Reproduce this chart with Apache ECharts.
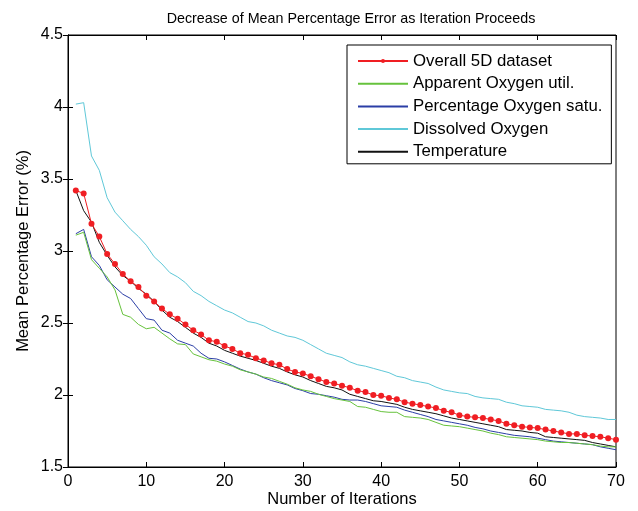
<!DOCTYPE html>
<html>
<head>
<meta charset="utf-8">
<script src="https://cdn.jsdelivr.net/npm/echarts@6/dist/echarts.min.js"></script>
<style>
	html, body { margin: 0; padding: 0; background: #fff; }
	#chart { width: 638px; height: 511px; }
</style>
</head>
<body>
<div id="chart"></div>
<script>
var iterations = [];
for (var i = 1; i <= 70; i++) iterations.push(i);

var overall = [3.42, 3.40, 3.19, 3.10, 2.98, 2.91, 2.84, 2.79, 2.75, 2.69,
	2.65, 2.60, 2.56, 2.53, 2.49, 2.45, 2.42, 2.38, 2.37, 2.34,
	2.32, 2.29, 2.28, 2.255, 2.24, 2.22, 2.21, 2.18, 2.16, 2.15,
	2.13, 2.11, 2.09, 2.08, 2.065, 2.05, 2.03, 2.02, 2.00, 1.995,
	1.98, 1.97, 1.95, 1.94, 1.93, 1.92, 1.91, 1.89, 1.88, 1.86,
	1.85, 1.845, 1.84, 1.83, 1.82, 1.80, 1.79, 1.78, 1.775, 1.77,
	1.76, 1.75, 1.74, 1.73, 1.73, 1.72, 1.715, 1.71, 1.70, 1.69];

var apparentO2 = [3.11, 3.13, 2.94, 2.88, 2.82, 2.73, 2.56, 2.54, 2.49, 2.46,
	2.47, 2.43, 2.39, 2.355, 2.35, 2.285, 2.265, 2.245, 2.235, 2.215,
	2.20, 2.175, 2.16, 2.145, 2.125, 2.115, 2.095, 2.075, 2.05, 2.035,
	2.025, 2.005, 1.99, 1.975, 1.965, 1.955, 1.92, 1.915, 1.90, 1.885,
	1.88, 1.88, 1.85, 1.845, 1.84, 1.83, 1.81, 1.79, 1.785, 1.78,
	1.77, 1.76, 1.75, 1.735, 1.725, 1.71, 1.705, 1.70, 1.695, 1.69,
	1.68, 1.675, 1.67, 1.67, 1.665, 1.66, 1.655, 1.645, 1.64, 1.64];

var percentO2 = [3.12, 3.15, 2.96, 2.90, 2.80, 2.75, 2.70, 2.67, 2.60, 2.53,
	2.52, 2.45, 2.43, 2.38, 2.36, 2.34, 2.29, 2.255, 2.25, 2.23,
	2.205, 2.18, 2.16, 2.145, 2.12, 2.10, 2.085, 2.07, 2.045, 2.03,
	2.01, 2.005, 1.995, 1.985, 1.97, 1.965, 1.965, 1.955, 1.94, 1.925,
	1.92, 1.915, 1.895, 1.88, 1.865, 1.85, 1.83, 1.82, 1.81, 1.80,
	1.79, 1.775, 1.765, 1.75, 1.74, 1.73, 1.72, 1.715, 1.71, 1.70,
	1.69, 1.68, 1.675, 1.67, 1.665, 1.66, 1.655, 1.64, 1.63, 1.62];

var dissolvedO2 = [4.02, 4.03, 3.66, 3.56, 3.37, 3.27, 3.21, 3.15, 3.10, 3.04,
	2.96, 2.91, 2.85, 2.82, 2.78, 2.72, 2.69, 2.65, 2.62, 2.59,
	2.57, 2.54, 2.51, 2.50, 2.48, 2.45, 2.43, 2.41, 2.40, 2.38,
	2.35, 2.32, 2.29, 2.275, 2.26, 2.23, 2.21, 2.20, 2.185, 2.17,
	2.155, 2.13, 2.12, 2.10, 2.09, 2.08, 2.055, 2.035, 2.025, 2.015,
	2.01, 1.99, 1.98, 1.975, 1.97, 1.95, 1.94, 1.925, 1.92, 1.915,
	1.90, 1.895, 1.89, 1.88, 1.86, 1.85, 1.845, 1.84, 1.83, 1.83];

var temperature = [3.42, 3.28, 3.20, 3.06, 2.97, 2.89, 2.83, 2.79, 2.74, 2.70,
	2.65, 2.59, 2.54, 2.51, 2.47, 2.43, 2.40, 2.36, 2.34, 2.31,
	2.29, 2.27, 2.255, 2.24, 2.22, 2.20, 2.185, 2.16, 2.14, 2.125,
	2.10, 2.08, 2.06, 2.05, 2.035, 2.005, 1.99, 1.975, 1.96, 1.955,
	1.945, 1.935, 1.915, 1.90, 1.89, 1.88, 1.87, 1.855, 1.84, 1.83,
	1.82, 1.81, 1.80, 1.79, 1.78, 1.76, 1.755, 1.75, 1.74, 1.735,
	1.71, 1.705, 1.70, 1.695, 1.69, 1.685, 1.67, 1.66, 1.65, 1.64];

var seriesNames = ['Overall 5D dataset', 'Apparent Oxygen util.', 'Percentage Oxygen satu.', 'Dissolved Oxygen', 'Temperature'];
var seriesData = [overall, apparentO2, percentO2, dissolvedO2, temperature];
var colors = ['#f01e23', '#66c23c', '#2b3ea6', '#5fc8d8', '#111111'];

var font = 'Liberation Sans, Arial, sans-serif';

function pairs(values) {
	return values.map(function (v, i) { return [iterations[i], v]; });
}

var series = seriesNames.map(function (name, i) {
	var s = {
		name: name,
		type: 'line',
		data: pairs(seriesData[i]),
		xAxisIndex: 0,
		yAxisIndex: 0,
		color: colors[i],
		lineStyle: { width: 1, color: colors[i] },
		symbol: 'none',
		animation: false,
		z: 10 - i
	};
	if (i === 0) {
		s.symbol = 'circle';
		s.symbolSize = 6;
		s.showSymbol = true;
		s.itemStyle = { color: colors[0] };
		s.z = 20;
	}
	return s;
});

// only the first entry keeps its dot in the legend
var legendData = seriesNames.map(function (name, i) {
	return i === 0 ? { name: name } : { name: name, itemStyle: { opacity: 0 } };
});

var tickStyle = { inside: true, length: 5, lineStyle: { color: '#000' } };
var lineStyle = { show: true, lineStyle: { color: '#000', width: 1 } };

var option = {
	animation: false,
	backgroundColor: '#fff',
	title: {
		text: 'Decrease of Mean Percentage Error as Iteration Proceeds',
		left: 346,
		textAlign: 'center',
		top: 7,
		textStyle: { fontFamily: font, fontSize: 14.3, fontWeight: 'normal', color: '#000' }
	},
	legend: {
		orient: 'vertical',
		left: 347,
		top: 45,
		padding: [7, 9, 3, 10],
		itemGap: 4.7,
		itemWidth: 50,
		itemHeight: 5,
		backgroundColor: '#fff',
		borderColor: '#000',
		borderWidth: 1,
		borderRadius: 0,
		textStyle: { fontFamily: font, fontSize: 16.8, lineHeight: 18, color: '#000', padding: [0, 0, 0, 0] },
		data: legendData
	},
	grid: {
		left: 68,
		right: 22,
		top: 35,
		bottom: 44,
		outerBoundsMode: 'none',
		containLabel: false,
		show: true,
		borderColor: '#000',
		borderWidth: 1
	},
	xAxis: [{
		type: 'value',
		min: 0,
		max: 70,
		interval: 10,
		name: 'Number of Iterations',
		nameLocation: 'middle',
		nameGap: 24,
		nameMoveOverlap: false,
		nameTextStyle: { fontFamily: font, fontSize: 16.5, color: '#000' },
		axisLine: lineStyle,
		axisTick: tickStyle,
		axisLabel: { fontFamily: font, fontSize: 16, color: '#000', margin: 7 },
		splitLine: { show: false }
	}, {
		type: 'value',
		position: 'top',
		min: 0,
		max: 70,
		interval: 10,
		axisLine: lineStyle,
		axisTick: tickStyle,
		axisLabel: { show: false },
		splitLine: { show: false }
	}],
	yAxis: [{
		type: 'value',
		min: 1.5,
		max: 4.5,
		interval: 0.5,
		name: 'Mean Percentage Error (%)',
		nameLocation: 'middle',
		nameGap: 36,
		nameMoveOverlap: false,
		nameTextStyle: { fontFamily: font, fontSize: 16.5, color: '#000' },
		axisLine: lineStyle,
		axisTick: tickStyle,
		axisLabel: { fontFamily: font, fontSize: 16, color: '#000', margin: 5 },
		splitLine: { show: false }
	}, {
		type: 'value',
		position: 'right',
		min: 1.5,
		max: 4.5,
		interval: 0.5,
		axisLine: lineStyle,
		axisTick: tickStyle,
		axisLabel: { show: false },
		splitLine: { show: false }
	}],
	series: series
};

var myChart = echarts.init(document.getElementById('chart'));
myChart.setOption(option);
</script>
</body>
</html>
